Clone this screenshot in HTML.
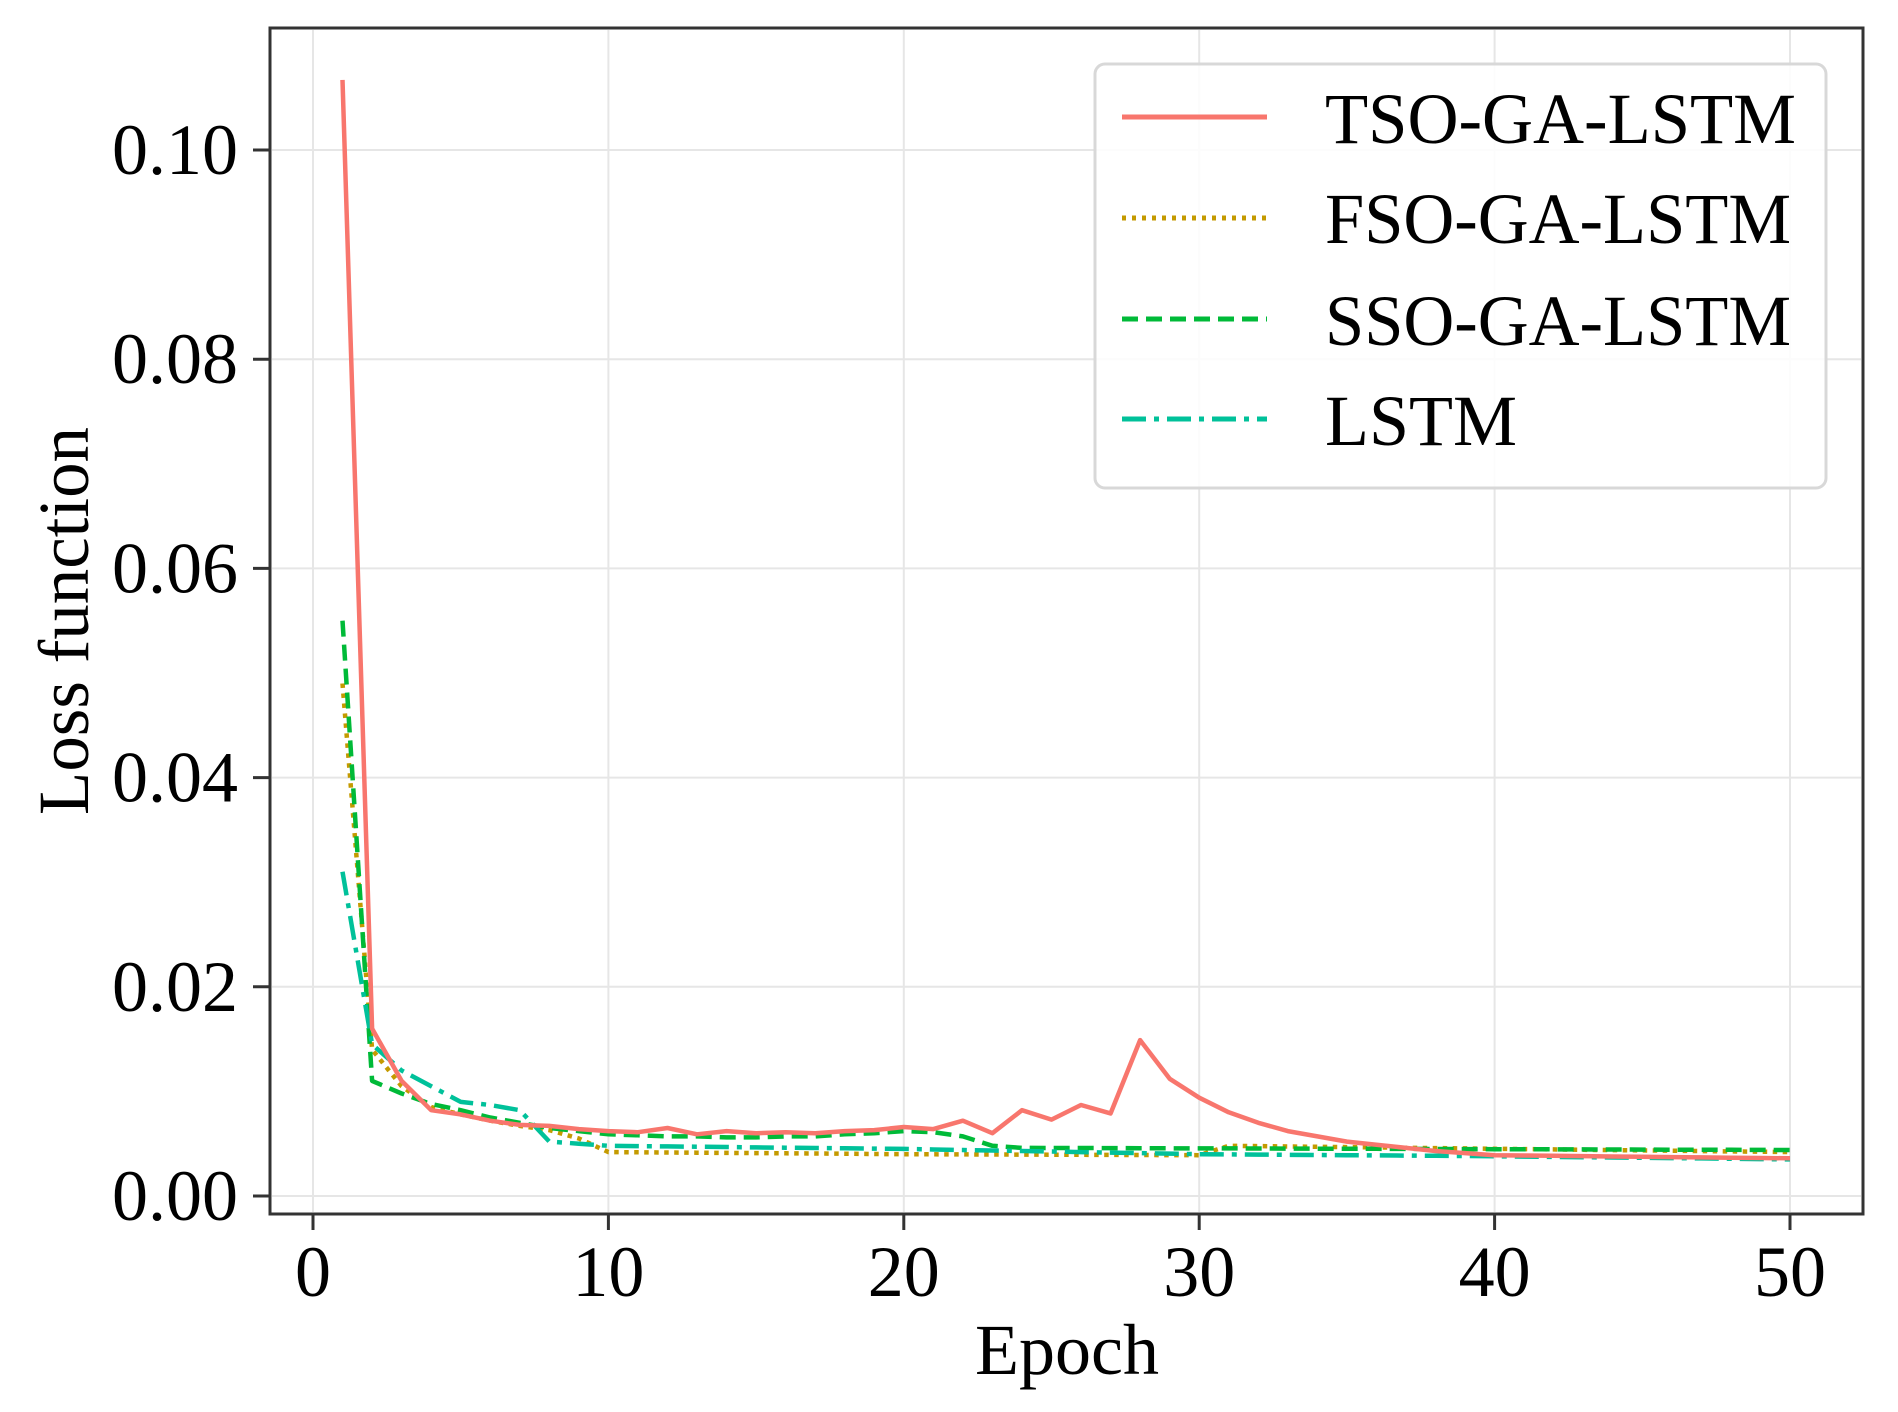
<!DOCTYPE html>
<html><head><meta charset="utf-8"><style>
html,body{margin:0;padding:0;background:#fff;}
svg{display:block;}
text{font-family:"Liberation Serif","Times New Roman",serif;fill:#000;}
</style></head><body>
<svg id="s" width="1898" height="1412" xmlns="http://www.w3.org/2000/svg">
<rect width="1898" height="1412" fill="#fff"/>
<g id="grid" stroke="#e6e6e6" stroke-width="2"></g>
<g id="series" fill="none" stroke-width="4.5" stroke-linejoin="round"></g>
<rect x="270" y="28" width="1593" height="1186" fill="none" stroke="#333" stroke-width="3"/>
<g id="ticks" stroke="#333" stroke-width="3"></g>
<g font-size="72" text-anchor="end" id="ylab"></g>
<g font-size="72" text-anchor="middle" id="xlab"></g>
<text x="1067" y="1374" font-size="72" text-anchor="middle">Epoch</text>
<text transform="translate(88,621) rotate(-90)" font-size="72" text-anchor="middle" textLength="388" lengthAdjust="spacingAndGlyphs">Loss function</text>
<rect x="1095" y="64" width="731" height="424" rx="10" fill="#fff" fill-opacity="0.85" stroke="#d8d8d8" stroke-width="3"/>
<line x1="1122" y1="117" x2="1267" y2="117" stroke="#f8766d" stroke-width="5"/>
<line x1="1122" y1="218" x2="1267" y2="218" stroke="#c49a00" stroke-width="5" stroke-dasharray="4,6"/>
<line x1="1122" y1="319" x2="1267" y2="319" stroke="#00ba38" stroke-width="5" stroke-dasharray="16,8"/>
<line x1="1122" y1="419" x2="1267" y2="419" stroke="#00c19a" stroke-width="5" stroke-dasharray="24,8,5,8"/>
<g font-size="72">
<text x="1325" y="143" textLength="471" lengthAdjust="spacingAndGlyphs">TSO-GA-LSTM</text>
<text x="1325" y="243" textLength="466" lengthAdjust="spacingAndGlyphs">FSO-GA-LSTM</text>
<text x="1325" y="345" textLength="466" lengthAdjust="spacingAndGlyphs">SSO-GA-LSTM</text>
<text x="1325" y="445">LSTM</text>
</g>
</svg>
<script>
var NS="http://www.w3.org/2000/svg";
function X(e){return 313+29.54*e;}
function Y(v){return 1196-10460*v;}
function el(p,t,a,txt){var n=document.createElementNS(NS,t);for(var k in a)n.setAttribute(k,a[k]);if(txt!==undefined)n.textContent=txt;document.getElementById(p).appendChild(n);return n;}
for(var i=0;i<=5;i++){var x=X(i*10);el("grid","line",{x1:x,y1:30,x2:x,y2:1212});el("ticks","line",{x1:x,y1:1214,x2:x,y2:1230});el("xlab","text",{x:x,y:1296},String(i*10));}
for(var j=0;j<=5;j++){var v=j*0.02,y=Y(v);el("grid","line",{x1:272,y1:y,x2:1861,y2:y});el("ticks","line",{x1:253,y1:y,x2:270,y2:y});el("ylab","text",{x:238,y:y+24},v.toFixed(2));}
function fill(a,n,end){var last=a[a.length-1];var len=a.length;for(var k=len;k<n;k++){a.push(last+(end-last)*(k-len+1)/(n-len));}return a;}
var tso=[0.1067,0.016,0.011,0.0082,0.0078,0.0072,0.0068,0.0067,0.0064,0.0062,0.0061,0.0065,0.0059,0.0062,0.006,0.0061,0.006,0.0062,0.0063,0.0066,0.0064,0.0072,0.006,0.0082,0.0073,0.0087,0.0079,0.0149,0.0112,0.0094,0.008,0.007,0.0062,0.0057,0.0052,0.0049,0.0046,0.0043,0.0041,0.0039];
fill(tso,50,0.0036);
var fso=[0.049,0.014,0.0105,0.0085,0.0078,0.0072,0.0067,0.0063,0.0055,0.0042];
fill(fso,20,0.004);fill(fso,30,0.0039);fso.push(0.0048);fill(fso,50,0.0042);
var sso=[0.055,0.011,0.0098,0.0088,0.0082,0.0075,0.007,0.0065,0.0062,0.0059,0.0058,0.0057,0.0057,0.0056,0.0056,0.0057,0.0057,0.0059,0.006,0.0062,0.0061,0.0057,0.0048,0.0046];
fill(sso,50,0.0044);
var ls=[0.031,0.0145,0.012,0.0105,0.009,0.0087,0.0082,0.0052,0.005,0.0048];
fill(ls,20,0.0045);fill(ls,30,0.004);fill(ls,40,0.0038);fill(ls,50,0.0035);
function draw(d,c,da){var p=d.map(function(v,i){return X(i+1).toFixed(1)+","+Y(v).toFixed(1);}).join(" ");var a={points:p,stroke:c};if(da)a["stroke-dasharray"]=da;el("series","polyline",a);}
draw(fso,"#c49a00","4.5,5.5");
draw(sso,"#00ba38","16,8");
draw(ls,"#00c19a","24,8,5,8");
draw(tso,"#f8766d");
</script>
</body></html>
